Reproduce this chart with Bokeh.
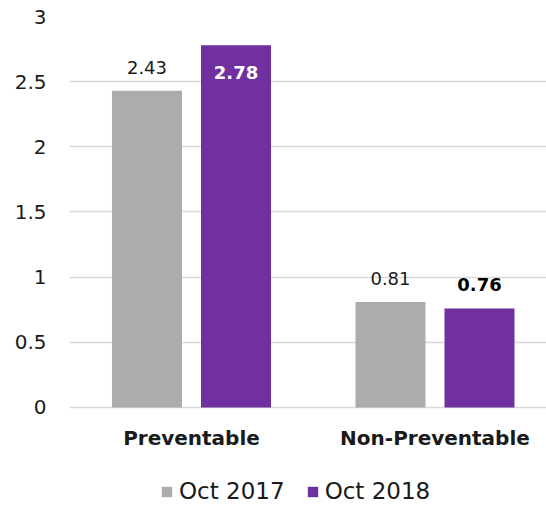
from bokeh.plotting import figure
from bokeh.models import FactorRange, Range1d, ColumnDataSource, Legend, LegendItem, FixedTicker
from bokeh.transform import dodge
from bokeh.core.properties import value
from bokeh.embed import file_html
from bokeh.resources import INLINE

categories = ["Preventable", "Non-Preventable"]
oct_2017 = [2.43, 0.81]
oct_2018 = [2.78, 0.76]
series_names = ["Oct 2017", "Oct 2018"]
y_ticks = [0, 0.5, 1, 1.5, 2, 2.5, 3]

GRAY = "#AEABAB"
PURPLE = "#7030A0"
FONT = "DejaVu Sans"
TXT = "#1a1a1a"

src = ColumnDataSource(dict(
    cat=categories,
    y17=oct_2017,
    y18=oct_2018,
    zero=[0] * len(categories),
    lab17=[f"{v:.2f}" for v in oct_2017],
    lab18=[f"{v:.2f}" for v in oct_2018],
    off18=[27 if v > 2 else -24 for v in oct_2018],
    col18=["white" if v > 2 else "black" for v in oct_2018],
))

# plot area extends below zero to host the category labels and legend
p = figure(x_range=FactorRange(*categories, range_padding=-0.0205),
           y_range=Range1d(-0.76, 3),
           width=546, height=506, output_backend="svg", toolbar_location=None,
           min_border_left=69, min_border_right=0, min_border_top=16, min_border_bottom=0)

SHIFT = 0.0215
D = 0.1828
W = 0.2875
r1 = p.vbar(x=dodge("cat", SHIFT - D, range=p.x_range), top="y17", width=W, source=src,
            fill_color=GRAY, line_color=None)
r2 = p.vbar(x=dodge("cat", SHIFT + D, range=p.x_range), top="y18", width=W, source=src,
            fill_color=PURPLE, line_color=None)

p.text(x=dodge("cat", SHIFT - D, range=p.x_range), y="y17", text="lab17", source=src,
       y_offset=-23, text_align="center", text_baseline="middle",
       text_font=value(FONT), text_font_size="18px", text_color=TXT)
p.text(x=dodge("cat", SHIFT + D, range=p.x_range), y="y18", text="lab18", source=src,
       y_offset="off18", text_align="center", text_baseline="middle",
       text_font=value(FONT), text_font_size="18px", text_font_style="bold",
       text_color="col18")

# category labels
p.text(x=dodge("cat", SHIFT, range=p.x_range), y="zero", text="cat", source=src,
       y_offset=31, text_align="center", text_baseline="middle",
       text_font=value(FONT), text_font_size="20px", text_font_style="bold",
       text_color=TXT)

p.xaxis.visible = False
p.xgrid.grid_line_color = None
p.ygrid.ticker = FixedTicker(ticks=y_ticks)
p.ygrid.grid_line_color = "#D9D9D9"
p.ygrid.grid_line_width = 1.5
p.outline_line_color = None

p.yaxis.ticker = FixedTicker(ticks=y_ticks)
p.yaxis.axis_line_color = None
p.yaxis.major_tick_line_color = None
p.yaxis.minor_tick_line_color = None
p.yaxis.major_label_standoff = 17
p.yaxis.major_label_text_font = FONT
p.yaxis.major_label_text_font_size = "20px"
p.yaxis.major_label_text_color = TXT

legend = Legend(items=[LegendItem(label=series_names[0], renderers=[r1]),
                       LegendItem(label=series_names[1], renderers=[r2])],
                orientation="horizontal", location=(91, 2))
legend.label_text_font = FONT
legend.label_text_font_size = "23px"
legend.label_text_color = TXT
legend.glyph_width = 13
legend.glyph_height = 13
legend.label_standoff = 6
legend.spacing = 21
legend.border_line_color = None
legend.background_fill_alpha = 0
legend.padding = 0
legend.margin = 0
p.add_layout(legend)

open("out.html", "w").write(file_html(p, INLINE))
